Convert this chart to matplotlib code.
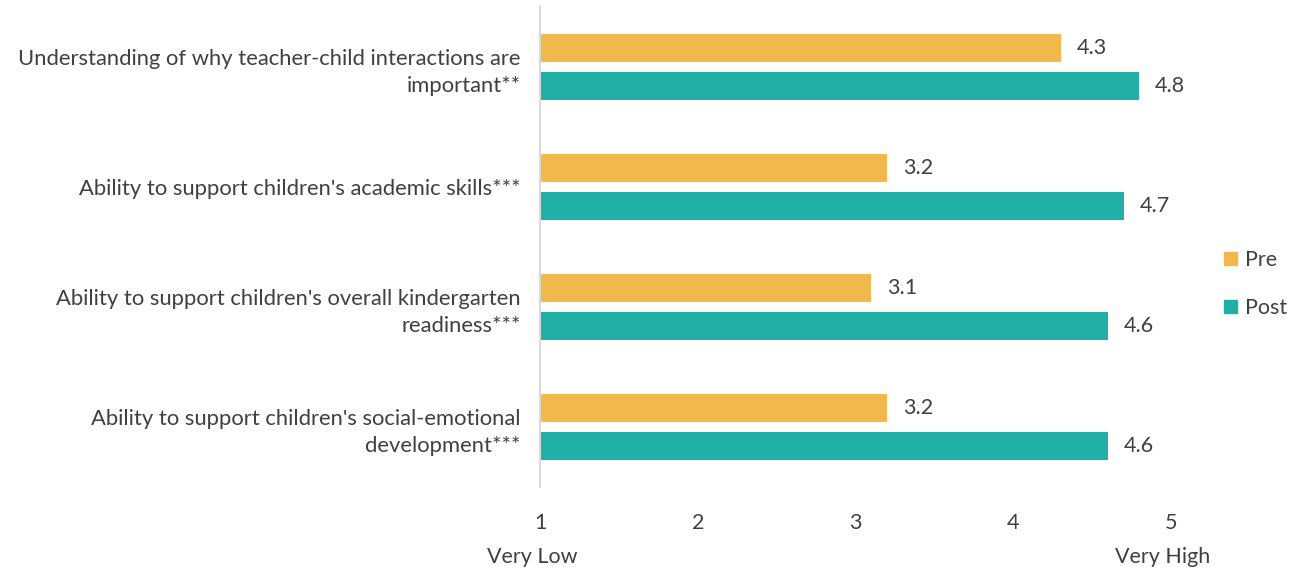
import numpy as np
import matplotlib.pyplot as plt
from matplotlib.patches import Patch

plt.rcParams['font.family'] = ['Lato', 'DejaVu Sans']

categories = [
    "Understanding of why teacher-child interactions are\nimportant**",
    "Ability to support children's academic skills***",
    "Ability to support children's overall kindergarten\nreadiness***",
    "Ability to support children's social-emotional\ndevelopment***",
]
pre = [4.3, 3.2, 3.1, 3.2]
post = [4.8, 4.7, 4.6, 4.6]
tick_vals = [1, 2, 3, 4, 5]

c_pre = '#F2B84B'
c_post = '#20AFA6'
txt = '#404040'
fs = 15.5

fig = plt.figure(figsize=(12.92, 5.73), dpi=100)
ax = fig.add_axes([540 / 1292, 1 - 487 / 573, (1171 - 540) / 1292, (487 - 7) / 573])

y = np.arange(len(categories))
h = 0.24
off = 0.158
ax.barh(y - off, np.array(pre) - 1, left=1, height=h, color=c_pre, label='Pre')
ax.barh(y + off, np.array(post) - 1, left=1, height=h, color=c_post, label='Post')

for yi, v in zip(y, pre):
    ax.text(v + 0.1, yi - off, f"{v:.1f}", va='center', ha='left', fontsize=fs, color=txt)
for yi, v in zip(y, post):
    ax.text(v + 0.1, yi + off, f"{v:.1f}", va='center', ha='left', fontsize=fs, color=txt)

ax.set_xlim(1, 5)
ax.set_ylim(len(categories) - 0.5, -0.5)
ax.set_yticks(y)
ax.set_yticklabels(categories, fontsize=15.8, color=txt, ha='right', linespacing=1.45)
ax.tick_params(axis='y', length=0, pad=14)
ax.set_xticks(tick_vals)
ax.set_xticklabels([str(t) for t in tick_vals], fontsize=fs, color=txt)
ax.tick_params(axis='x', length=0, pad=19)

for s in ['top', 'right', 'bottom']:
    ax.spines[s].set_visible(False)
ax.spines['left'].set_color('#D9D9D9')
ax.spines['left'].set_linewidth(1.5)

fig.text(532 / 1292, 1 - 557 / 573, "Very Low", ha='center', va='center', fontsize=fs, color=txt)
fig.text(1163 / 1292, 1 - 557 / 573, "Very High", ha='center', va='center', fontsize=fs, color=txt)

handles = [Patch(color=c_pre, label='Pre'), Patch(color=c_post, label='Post')]
fig.legend(handles=handles, loc='center left', bbox_to_anchor=(1205 / 1292, 1 - 284 / 573),
           frameon=False, fontsize=fs, handlelength=0.6, handleheight=0.6,
           handletextpad=0.35, labelspacing=1.3, labelcolor=txt)

fig.savefig('out.png', dpi=100)
